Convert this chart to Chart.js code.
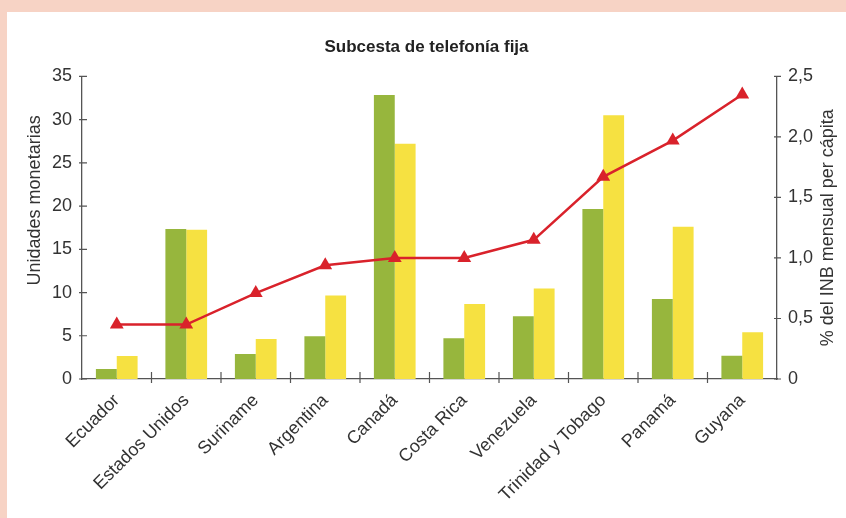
<!DOCTYPE html>
<html>
<head>
<meta charset="utf-8">
<script src="https://cdn.jsdelivr.net/npm/chart.js@4.4.1/dist/chart.umd.min.js"></script>
<style>
    html, body { margin: 0; padding: 0; }
    body { width: 846px; height: 518px; background: #f7d3c5; overflow: hidden; }
    #chartBox { position: absolute; left: 7px; top: 12px; width: 839px; height: 506px; background: #fff; }
</style>
</head>
<body>
<div id="chartBox"><canvas id="telefoniaChart" width="839" height="506"></canvas></div>
<script>
var paises = ['Ecuador', 'Estados Unidos', 'Suriname', 'Argentina', 'Canadá', 'Costa Rica', 'Venezuela', 'Trinidad y Tobago', 'Panamá', 'Guyana'];
var costoVerde = [1.15, 17.35, 2.9, 4.95, 32.85, 4.72, 7.25, 19.65, 9.25, 2.68];
var costoAmarillo = [2.65, 17.27, 4.64, 9.67, 27.2, 8.67, 10.48, 30.5, 17.6, 5.41];
var porcentajeINB = [0.45, 0.45, 0.71, 0.94, 1.0, 1.0, 1.15, 1.67, 1.97, 2.35];

var fuente = "'Liberation Sans', Arial, sans-serif";
var ejeColor = '#555555';
var textoColor = '#333333';

// marcas cortas que cruzan los ejes
var marcasEjes = {
    id: 'marcasEjes',
    afterDraw: function (chart) {
        var ctx = chart.ctx;
        var x = chart.scales.x, y = chart.scales.y, y1 = chart.scales.y1;
        ctx.save();
        ctx.strokeStyle = ejeColor;
        ctx.lineWidth = 1.2;
        ctx.beginPath();
        y.ticks.forEach(function (t, i) {
            var p = y.getPixelForTick(i);
            ctx.moveTo(y.right - 3, p);
            ctx.lineTo(y.right + 5, p);
        });
        y1.ticks.forEach(function (t, i) {
            var p = y1.getPixelForTick(i);
            ctx.moveTo(y1.left - 3, p);
            ctx.lineTo(y1.left + 4, p);
        });
        for (var i = 0; i < paises.length - 1; i++) {
            var px = (x.getPixelForTick(i) + x.getPixelForTick(i + 1)) / 2;
            ctx.moveTo(px, x.top - 7);
            ctx.lineTo(px, x.top + 4);
        }
        ctx.stroke();
        ctx.restore();
    }
};

// titulos verticales de ambos ejes, leidos de abajo hacia arriba
var titulosEjes = {
    id: 'titulosEjes',
    afterDraw: function (chart) {
        var ctx = chart.ctx;
        var area = chart.chartArea;
        ctx.save();
        ctx.fillStyle = textoColor;
        ctx.font = '18px ' + fuente;
        ctx.textAlign = 'center';
        ctx.textBaseline = 'middle';
        ctx.translate(28, area.top + 124);
        ctx.rotate(-Math.PI / 2);
        ctx.fillText('Unidades monetarias', 0, 0);
        ctx.restore();
        ctx.save();
        ctx.fillStyle = textoColor;
        ctx.font = '18px ' + fuente;
        ctx.textAlign = 'center';
        ctx.textBaseline = 'middle';
        ctx.translate(821, (area.top + area.bottom) / 2);
        ctx.rotate(-Math.PI / 2);
        ctx.fillText('% del INB mensual per cápita', 0, 0);
        ctx.restore();
    }
};

var ctx = document.getElementById('telefoniaChart').getContext('2d');
var chart = new Chart(ctx, {
    type: 'bar',
    data: {
        labels: paises,
        datasets: [
            {
                type: 'line',
                data: porcentajeINB,
                yAxisID: 'y1',
                borderColor: '#d9222b',
                backgroundColor: '#d9222b',
                borderWidth: 2.5,
                pointStyle: 'triangle',
                pointRadius: 8,
                pointBorderWidth: 0,
                tension: 0,
                order: 0
            },
            {
                data: costoVerde,
                backgroundColor: '#97b63d',
                yAxisID: 'y',
                order: 1
            },
            {
                data: costoAmarillo,
                backgroundColor: '#f6e141',
                yAxisID: 'y',
                order: 1
            }
        ]
    },
    options: {
        responsive: false,
        animation: false,
        categoryPercentage: 0.6,
        barPercentage: 1.0,
        layout: { padding: 0 },
        plugins: {
            legend: { display: false },
            tooltip: { enabled: false },
            title: {
                display: true,
                text: 'Subcesta de telefonía fija',
                color: '#222',
                font: { family: fuente, size: 17, weight: 'bold' },
                padding: { top: 25, bottom: 19 }
            }
        },
        scales: {
            x: {
                grid: { display: false, drawTicks: false },
                border: { color: ejeColor, width: 1.3 },
                ticks: {
                    color: textoColor,
                    font: { family: fuente, size: 18 },
                    minRotation: 45,
                    maxRotation: 45,
                    padding: 11
                },
                afterFit: function (s) { s.height = 139; }
            },
            y: {
                position: 'left',
                min: 0,
                max: 35,
                grid: { display: false, drawTicks: false },
                border: { color: ejeColor, width: 1.3 },
                ticks: {
                    stepSize: 5,
                    color: textoColor,
                    font: { family: fuente, size: 18 },
                    padding: 10
                },
                afterFit: function (s) { s.width = 75; }
            },
            y1: {
                position: 'right',
                min: 0,
                max: 2.5,
                grid: { display: false, drawTicks: false },
                border: { color: ejeColor, width: 1.3 },
                ticks: {
                    stepSize: 0.5,
                    color: textoColor,
                    font: { family: fuente, size: 18 },
                    padding: 11,
                    callback: function (v) { return v === 0 ? '0' : v.toFixed(1).replace('.', ','); }
                },
                afterFit: function (s) { s.width = 69; }
            }
        }
    },
    plugins: [marcasEjes, titulosEjes]
});
</script>
</body>
</html>
